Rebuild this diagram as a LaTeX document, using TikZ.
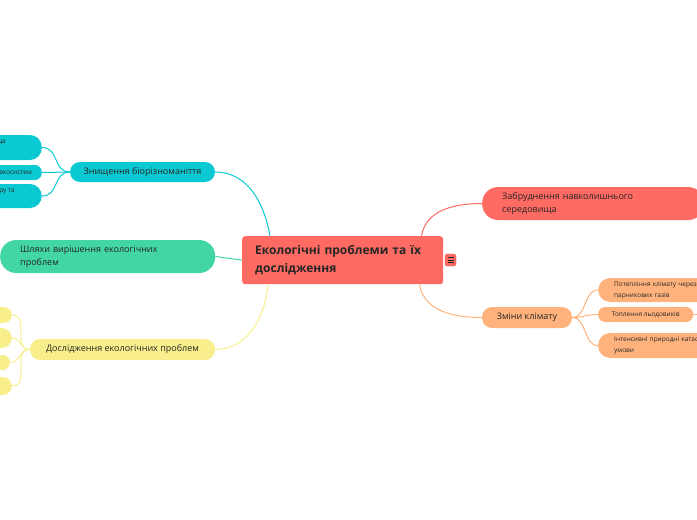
\documentclass[tikz,border=0pt]{standalone}
\usepackage{fontspec}
\setmainfont{Open Sans}
\usetikzlibrary{positioning}

\begin{document}
\begin{tikzpicture}[x=1pt, y=-1pt,
    pill/.style={rectangle, inner ysep=0pt, text=textColour},
    bigfont/.style={font=\fontsize{9}{13}\selectfont},
    smallfont/.style={font=\fontsize{6.5}{11}\selectfont},
    link/.style={line width=1pt}]

    \definecolor{textColour}{HTML}{262626}
    \definecolor{rootColour}{HTML}{FF6B63}
    \definecolor{orangeColour}{HTML}{FFB27C}
    \definecolor{tealColour}{HTML}{0BC9D2}
    \definecolor{greenColour}{HTML}{42D6A5}
    \definecolor{yellowColour}{HTML}{F8EF8C}

    % Canvas
    \useasboundingbox (0,0) rectangle (697,520);
    \clip (0,0) rectangle (697,520);

    % Central topic
    \node[rectangle, fill=rootColour, rounded corners=3pt, anchor=north west,
          minimum width=200pt, minimum height=48pt, text width=175pt, inner xsep=13pt,
          align=left, text=textColour, font=\fontsize{12}{18}\selectfont\bfseries]
          (root) at (242,236) {Екологічні проблеми та їх\\дослідження};
    \node[rectangle, fill=rootColour, draw=rootColour!70!black, line width=0.3pt,
          rounded corners=1.5pt, minimum width=11pt, minimum height=12pt, inner sep=0pt]
          (menu) at (450.5,260) {};
    \foreach \dy in {-2.5,0,2.5}
        \draw[line width=1pt, textColour] ([xshift=-3pt,yshift=\dy pt]menu.center) -- ++(6,0);

    % Right branches
    \node[pill, bigfont, fill=rootColour, rounded corners=16pt, anchor=west,
          minimum width=222pt, minimum height=33pt, text width=182pt, inner xsep=20pt, align=left]
          (pollution) at (482,203.5) {Забруднення навколишнього\\середовища};
    \node[pill, bigfont, fill=orangeColour, rounded corners=10pt,
          minimum width=90pt, minimum height=21pt]
          (climate) at (527,317.5) {Зміни клімату};

    \node[pill, smallfont, fill=orangeColour, rounded corners=12pt, anchor=west,
          minimum width=120pt, minimum height=24pt, text width=110pt, inner xsep=16pt, align=left]
          (warming) at (598,290) {Потепління клімату через викиди\\парникових газів};
    \node[pill, smallfont, fill=orangeColour, rounded corners=7pt, anchor=west,
          minimum width=95pt, minimum height=15pt]
          (glacier) at (598,314.5) {Топлення льодовиків};
    \node[pill, smallfont, fill=orangeColour, rounded corners=12pt, anchor=west,
          minimum width=120pt, minimum height=25pt, text width=110pt, inner xsep=16pt, align=left]
          (disaster) at (598,345.5) {Інтенсивні природні катастрофи\\умови};
    \coordinate (glacierNext) at (704,314.5);

    % Left branches
    \node[pill, bigfont, fill=tealColour, rounded corners=10pt,
          minimum width=145pt, minimum height=20pt]
          (biodiv) at (142.5,172) {Знищення біорізноманіття};
    \node[pill, smallfont, fill=tealColour, rounded corners=12pt, anchor=east,
          minimum height=25pt, inner xsep=36pt, align=left]
          (habitat) at (42,147.5) {Втрата природного середовища\\існування};
    \node[pill, smallfont, fill=tealColour, rounded corners=7pt, anchor=east,
          minimum height=15pt, inner xsep=10pt]
          (ecosys) at (42,172.5) {Деградація екосистем};
    \node[pill, smallfont, fill=tealColour, rounded corners=12pt, anchor=east,
          minimum height=24pt, inner xsep=27pt, align=left]
          (flora) at (42,196) {Знищення рослинного покриву, флору та\\фауни};

    \node[pill, bigfont, fill=greenColour, rounded corners=16pt, anchor=west,
          minimum width=215pt, minimum height=33pt, text width=175pt, inner xsep=20pt, align=left]
          (ways) at (0,256.5) {Шляхи вирішення екологічних\\проблем};

    \node[pill, bigfont, fill=yellowColour, rounded corners=10pt,
          minimum width=185pt, minimum height=21pt]
          (research) at (122.5,349.5) {Дослідження екологічних проблем};
    \node[pill, fill=yellowColour, rounded corners=8pt, anchor=east,
          minimum width=60pt, minimum height=16pt] (resA) at (12,315) {};
    \node[pill, fill=yellowColour, rounded corners=10pt, anchor=east,
          minimum width=60pt, minimum height=20pt] (resB) at (12,338) {};
    \node[pill, fill=yellowColour, rounded corners=7pt, anchor=east,
          minimum width=60pt, minimum height=15pt] (resC) at (10,362.5) {};
    \node[pill, fill=yellowColour, rounded corners=9pt, anchor=east,
          minimum width=60pt, minimum height=18pt] (resD) at (12,386) {};

    % Connectors from the central topic
    \draw[link, rootColour] ([xshift=-22pt]root.north east) to[out=80, in=180] (pollution.west);
    \draw[link, orangeColour] ([xshift=-24pt]root.south east) to[out=-80, in=180] (climate.west);
    \draw[link, tealColour] (biodiv.east) to[out=0, in=100] ([xshift=28pt]root.north west);
    \draw[link, greenColour] (ways.east) -- (root.west);
    \draw[link, yellowColour] (research.east) to[out=0, in=-95] ([xshift=26pt]root.south west);

    % Connectors to sub topics
    \foreach \child in {warming, glacier, disaster}
        \draw[link, orangeColour] (climate.east) to[out=0, in=180] (\child.west);
    \draw[link, orangeColour] (glacier.east) -- (glacierNext);

    \coordinate (bdsplit) at (70,172);
    \foreach \child in {habitat, ecosys, flora}
        \draw[link, tealColour] (bdsplit) to[out=180, in=0, looseness=1.2] (\child.east);

    \foreach \child in {resA, resB, resC, resD}
        \draw[link, yellowColour] (research.west) to[out=180, in=0, looseness=1.2] (\child.east);

\end{tikzpicture}
\end{document}
